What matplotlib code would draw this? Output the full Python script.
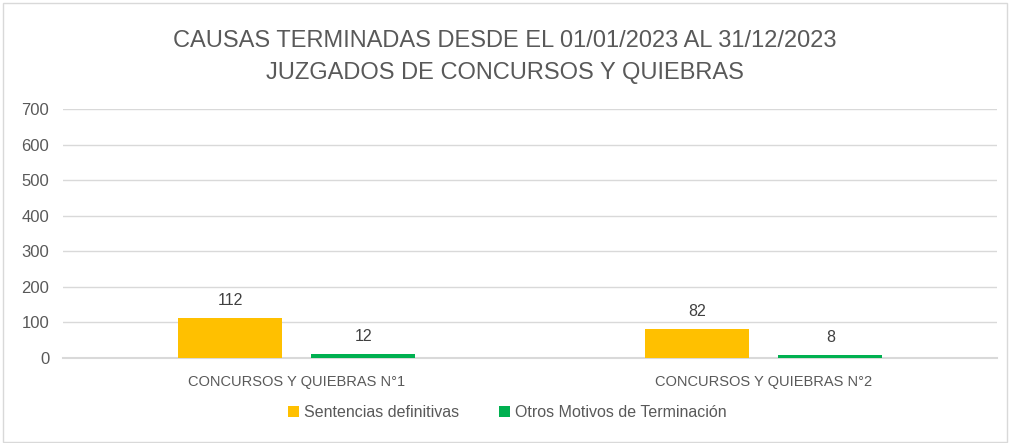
import numpy as np
import matplotlib.pyplot as plt
from matplotlib.patches import Rectangle

juzgados = ['CONCURSOS Y QUIEBRAS N°1', 'CONCURSOS Y QUIEBRAS N°2']
sentencias = [112, 82]
otros = [12, 8]
series_names = ['Sentencias definitivas', 'Otros Motivos de Terminación']
colores = ['#FFC000', '#00B050']
yticks = [0, 100, 200, 300, 400, 500, 600, 700]

plt.rcParams['font.family'] = ['Liberation Sans', 'DejaVu Sans']
gris = '#595959'

fig = plt.figure(figsize=(10.1, 4.43), dpi=100)
ax = fig.add_axes([0.0624, 0.192, 0.925, 0.562])

x = np.arange(len(juzgados))
ancho = 0.223
desp = 0.1425
b1 = ax.bar(x - desp, sentencias, ancho, color=colores[0], label=series_names[0], zorder=3)
b2 = ax.bar(x + desp, otros, ancho, color=colores[1], label=series_names[1], zorder=3)

for barras in (b1, b2):
    for r in barras:
        ax.annotate(f'{int(r.get_height())}', (r.get_x() + r.get_width() / 2, r.get_height()),
                    xytext=(0, 7), textcoords='offset points', ha='center', va='bottom',
                    fontsize=11.5, color='#404040')

ax.set_xlim(-0.5, 1.5)
ax.set_ylim(0, 700)
ax.set_yticks(yticks)
ax.set_xticks(x)
ax.set_xticklabels(juzgados)
ax.yaxis.grid(True, color='#D9D9D9', linewidth=1, zorder=0)
ax.axhline(0, color='#D9D9D9', linewidth=1.5, zorder=2, clip_on=False)
ax.tick_params(axis='y', length=0, labelsize=12, colors=gris, pad=10)
ax.tick_params(axis='x', length=0, labelsize=10.5, colors=gris, pad=12)
for s in ax.spines.values():
    s.set_visible(False)

fig.text(0.5, 0.908, 'CAUSAS TERMINADAS DESDE EL 01/01/2023 AL 31/12/2023',
         ha='center', va='center', fontsize=17, color=gris)
fig.text(0.5, 0.836, 'JUZGADOS DE CONCURSOS Y QUIEBRAS',
         ha='center', va='center', fontsize=17, color=gris)

fig.legend(loc='center', bbox_to_anchor=(0.502, 0.068), ncol=2, frameon=False,
           fontsize=11.5, handlelength=0.7, handleheight=0.7, handletextpad=0.3,
           columnspacing=2.5, labelcolor=gris)

fig.patches.append(Rectangle((0.003, 0.003), 0.994, 0.991, transform=fig.transFigure,
                             fill=False, edgecolor='#D9D9D9', linewidth=1))

fig.savefig('out.png', dpi=100)
